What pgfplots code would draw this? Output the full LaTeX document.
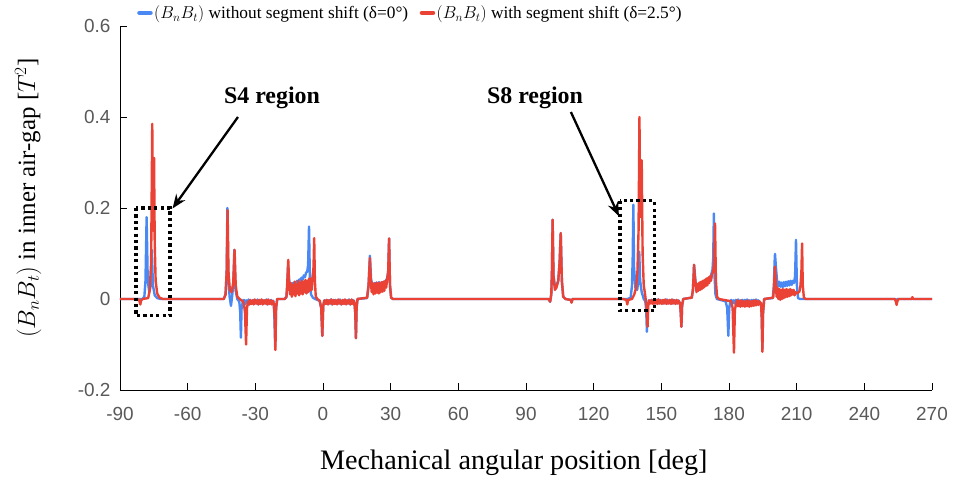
\documentclass[border=0pt]{standalone}
\usepackage{fontspec}
\setmainfont{Liberation Serif}
\newfontfamily\arialfont{Liberation Sans}
\usepackage{pgfplots}
\pgfplotsset{compat=1.18}
\usetikzlibrary{arrows.meta}

\definecolor{bnbtblue}{RGB}{74,137,243}
\definecolor{bnbtred}{RGB}{234,67,53}
\definecolor{ticktext}{RGB}{89,89,89}

\begin{document}
\begin{tikzpicture}
\begin{axis}[
  name=ax,
  at={(0,0)}, anchor=south west,
  scale only axis,
  width=812bp, height=364bp,
  xmin=-90, xmax=270, ymin=-0.2, ymax=0.6,
  xtick={-90,-60,...,270},
  ytick={-0.2,0,0.2,0.4,0.6},
  axis x line*=bottom, axis y line*=left,
  axis line style={black, line width=0.8bp},
  tick align=inside,
  major tick length=7bp,
  tick style={black, line width=0.8bp},
  /pgf/number format/assume math mode=true,
  ticklabel style={font=\arialfont\fontsize{19}{21}\selectfont, text=ticktext},
  xticklabel style={yshift=-14bp},
  yticklabel style={xshift=-6bp},
  xlabel={Mechanical angular position [deg]},
  xlabel style={at={(axis description cs:0.485,0)}, anchor=center, yshift=-73bp,
                font=\fontsize{28.3}{30}\selectfont},
  ylabel={$(B_nB_t)$ in inner air-gap [$T^2$]},
  ylabel style={at={(axis description cs:-0.113,0.527)}, anchor=center,
                font=\fontsize{25}{27}\selectfont},
  legend columns=2,
  legend cell align=left,
  legend style={at={(axis description cs:0.021,1.036)}, anchor=west,
                draw=none, fill=none, font=\fontsize{17.4}{19}\selectfont,
                nodes={inner xsep=1.5bp, inner ysep=1bp},
                /tikz/every even column/.append style={column sep=10bp},
                inner sep=0pt},
  legend image code/.code={\draw[#1, line width=4.5bp] (0bp,0bp) -- (11bp,0bp);},
  every axis plot/.append style={line width=2.4bp, line join=round, line cap=round},
]

% delta = 0 deg
\addplot[bnbtblue] coordinates {
(-90,0) (-80,0) (-79.2,0.005) (-78.7,0.04) (-78.2,0.18) (-77.7,0.04) (-77,0.015) (-76.4,0.03) (-75.9,0.108) (-75.4,0.03) (-74.6,0.008) (-73.5,0.002) (-72,0)
(-44,0) (-43.2,0.01) (-42.7,0.06) (-42.4,0.2) (-42,0.05) (-41.4,0.005) (-40.8,-0.015) (-40.2,0.01) (-39.7,0.04) (-39.3,0.108) (-38.8,0.02) (-38,0) (-37.1,-0.006) (-36.7,-0.03) (-36.4,-0.085) (-36.1,-0.02) (-35.5,-0.004)
(-35,-0.002) (-34.5,-0.011) (-34,-0.003) (-33.5,-0.010) (-33,-0.001) (-32.5,-0.012) (-32,-0.004) (-31.5,-0.009) (-31,-0.002) (-30.5,-0.011) (-30,-0.003) (-29.5,-0.010) (-29,-0.001) (-28.5,-0.012) (-28,-0.004) (-27.5,-0.009) (-27,-0.002) (-26.5,-0.011) (-26,-0.003) (-25.5,-0.010) (-25,-0.001) (-24.5,-0.012) (-24,-0.004) (-23.5,-0.009) (-23,-0.002) (-22.5,-0.010) (-22,-0.004)
(-21.6,-0.03) (-21.2,-0.105) (-20.8,-0.02) (-20.3,0) (-17,0) (-16.2,0.004) (-15.8,0.03) (-15.5,0.075) (-15.1,0.045) (-14.6,0.03)
(-14,0.025) (-13.5,0.035) (-13,0.028) (-12.5,0.038) (-12,0.03) (-11.5,0.04) (-11,0.034) (-10.5,0.043) (-10,0.037) (-9.5,0.047) (-9,0.042) (-8.5,0.052) (-8,0.048) (-7.5,0.058) (-7,0.06) (-6.6,0.075) (-6.2,0.159) (-5.8,0.04) (-5.3,0.01) (-4.5,0.003) (-3.5,0) (-1.5,-0.004) (-0.8,-0.02) (-0.3,-0.081) (0.1,-0.015) (0.6,-0.003)
(1,-0.008) (1.5,-0.002) (2,-0.011) (2.5,-0.003) (3,-0.010) (3.5,-0.001) (4,-0.012) (4.5,-0.004) (5,-0.009) (5.5,-0.002) (6,-0.011) (6.5,-0.003) (7,-0.010) (7.5,-0.001) (8,-0.012) (8.5,-0.004) (9,-0.009) (9.5,-0.002) (10,-0.011) (10.5,-0.003) (11,-0.010) (11.5,-0.001) (12,-0.012) (12.5,-0.004) (13,-0.009) (13.5,-0.003)
(14,-0.01) (14.3,-0.03) (14.6,-0.086) (14.9,-0.02) (15.3,0) (19.5,0.002) (20.2,0.03) (20.8,0.095) (21.3,0.045) (21.8,0.03)
(22.3,0.022) (22.8,0.035) (23.3,0.025) (23.8,0.036) (24.3,0.027) (24.8,0.037) (25.3,0.028) (25.8,0.036) (26.3,0.03) (26.8,0.038) (27.3,0.032) (27.8,0.04) (28.4,0.045) (28.9,0.06) (29.3,0.133) (29.7,0.03) (30.2,0.003) (31,0)
(100,0) (100.7,-0.006) (101.2,0.01) (101.5,0.06) (101.8,0.174) (102.2,0.05) (102.8,0.03) (103.5,0.03) (104.3,0.04) (104.9,0.08) (105.4,0.145) (105.9,0.04) (106.5,0.005) (107.5,0) (109.8,-0.002) (110.2,-0.007) (110.6,0)
(135,0) (136.4,0.003) (137,0.03) (137.3,0.09) (137.6,0.207) (137.9,0.07) (138.5,0.025) (139.3,0.02) (139.8,0.04) (140.2,0.104) (140.6,0.04) (141.3,0.015) (142.2,0) (142.9,-0.005) (143.3,-0.025) (143.6,-0.072) (143.9,-0.02) (144.4,-0.003)
(145,-0.008) (145.5,-0.002) (146,-0.009) (146.5,-0.002) (147,-0.010) (147.5,-0.003) (148,-0.009) (148.5,-0.001) (149,-0.010) (149.5,-0.002) (150,-0.009) (150.5,-0.003) (151,-0.010) (151.5,-0.002) (152,-0.009) (152.5,-0.001) (153,-0.010) (153.5,-0.003) (154,-0.009) (154.5,-0.002) (155,-0.010) (155.5,-0.002) (156,-0.009) (156.5,-0.003) (157,-0.010) (157.5,-0.003)
(158.3,-0.01) (158.6,-0.03) (158.9,-0.061) (159.2,-0.015) (159.7,0) (163.5,0.003) (164,0.02) (164.3,0.05) (164.5,0.075) (164.8,0.06) (165.2,0.035)
(165.7,0.025) (166.2,0.032) (166.7,0.024) (167.2,0.034) (167.7,0.027) (168.2,0.037) (168.7,0.03) (169.2,0.04) (169.7,0.034) (170.2,0.044) (170.7,0.039) (171.2,0.048) (171.7,0.045) (172.2,0.055) (172.7,0.065) (173,0.09) (173.3,0.188) (173.6,0.05) (174,0.01) (174.6,0)
(178.5,-0.005) (179.2,-0.02) (179.7,-0.081) (180.1,-0.02) (180.6,-0.005)
(181,-0.002) (181.5,-0.009) (182,-0.003) (182.5,-0.010) (183,-0.002) (183.5,-0.009) (184,-0.001) (184.5,-0.010) (185,-0.003) (185.5,-0.009) (186,-0.002) (186.5,-0.010) (187,-0.002) (187.5,-0.009) (188,-0.001) (188.5,-0.010) (189,-0.003) (189.5,-0.009) (190,-0.002) (190.5,-0.010) (191,-0.002) (191.5,-0.009) (192,-0.001) (192.5,-0.010) (193,-0.003) (193.5,-0.008)
(194.2,-0.01) (194.5,-0.04) (194.8,-0.11) (195.1,-0.03) (195.6,0) (199.4,0.002) (199.9,0.03) (200.2,0.08) (200.4,0.099) (200.8,0.07) (201.3,0.04)
(201.8,0.028) (202.3,0.038) (202.8,0.027) (203.3,0.036) (203.8,0.026) (204.3,0.037) (204.8,0.028) (205.3,0.038) (205.8,0.029) (206.3,0.039) (206.8,0.03) (207.3,0.04) (207.8,0.031) (208.3,0.04) (208.8,0.035) (209.3,0.05) (209.7,0.13) (210.1,0.03) (210.6,0.002) (211.5,0)
(253.7,0) (254.2,-0.005) (254.6,0) (270,0)
};
\addlegendentry{$(B_nB_t)$ without segment shift (δ=0°)}

% delta = 2.5 deg
\addplot[bnbtred] coordinates {
(-90,0) (-82,0) (-81.4,-0.004) (-81,-0.012) (-80.6,-0.003) (-80,0) (-77.5,0.002) (-76.8,0.02) (-76.2,0.08) (-75.7,0.385) (-75.4,0.2) (-75.2,0.15) (-74.9,0.31) (-74.6,0.12) (-74.2,0.04) (-73.5,0.012) (-72.5,0.003) (-71,0)
(-44,0) (-43.2,0.01) (-42.7,0.06) (-42.3,0.195) (-41.9,0.06) (-41.3,0.02) (-40.5,0.015) (-39.8,0.035) (-39.2,0.108) (-38.7,0.03) (-38,0.005) (-37,0) (-35.5,-0.005) (-35,-0.012) (-34.6,-0.03) (-34.1,-0.10) (-33.7,-0.02) (-33.2,-0.005)
(-32.75,-0.012) (-32.25,-0.002) (-31.75,-0.011) (-31.25,-0.003) (-30.75,-0.012) (-30.25,-0.001) (-29.75,-0.010) (-29.25,-0.003) (-28.75,-0.012) (-28.25,-0.002) (-27.75,-0.011) (-27.25,-0.001) (-26.75,-0.012) (-26.25,-0.003) (-25.75,-0.010) (-25.25,-0.002) (-24.75,-0.012) (-24.25,-0.001) (-23.75,-0.011) (-23.25,-0.003) (-22.75,-0.012) (-22.25,-0.004)
(-21.8,-0.01) (-21.4,-0.04) (-21.1,-0.112) (-20.8,-0.02) (-20.3,0) (-17,0) (-16.2,0.005) (-15.8,0.04) (-15.4,0.086) (-15,0.03)
(-14.6,0.01) (-14.2,0.035) (-13.8,0.005) (-13.4,0.03) (-13,0.01) (-12.6,0.038) (-12.2,0.006) (-11.8,0.032) (-11.4,0.012) (-11,0.04) (-10.6,0.008) (-10.2,0.035) (-9.8,0.012) (-9.4,0.04) (-9,0.01) (-8.6,0.038) (-8.2,0.015) (-7.8,0.042) (-7.4,0.012) (-7,0.04) (-6.6,0.015) (-6.2,0.045) (-5.8,0.018) (-5.4,0.045) (-5,0.02) (-4.6,0.05) (-4.2,0.07) (-3.9,0.134) (-3.6,0.04) (-3.2,0.005) (-2.5,0) (-1.4,-0.004) (-0.8,-0.02) (-0.3,-0.081) (0.1,-0.015) (0.6,-0.003)
(1.25,-0.011) (1.75,-0.002) (2.25,-0.012) (2.75,-0.003) (3.25,-0.010) (3.75,-0.001) (4.25,-0.012) (4.75,-0.002) (5.25,-0.011) (5.75,-0.003) (6.25,-0.012) (6.75,-0.001) (7.25,-0.010) (7.75,-0.003) (8.25,-0.012) (8.75,-0.002) (9.25,-0.011) (9.75,-0.001) (10.25,-0.012) (10.75,-0.003) (11.25,-0.010) (11.75,-0.002) (12.25,-0.012) (12.75,-0.001) (13.25,-0.011) (13.75,-0.004)
(14,-0.012) (14.3,-0.03) (14.6,-0.086) (14.9,-0.02) (15.3,0) (19.6,0.003) (20.2,0.03) (20.8,0.09) (21.2,0.04)
(21.6,0.015) (22,0.035) (22.4,0.01) (22.8,0.033) (23.2,0.012) (23.6,0.036) (24,0.014) (24.4,0.034) (24.8,0.012) (25.2,0.036) (25.6,0.015) (26,0.037) (26.4,0.016) (26.8,0.038) (27.2,0.018) (27.6,0.04) (28,0.025) (28.5,0.045) (28.9,0.06) (29.3,0.133) (29.7,0.03) (30.2,0.003) (31,0)
(100,0) (100.7,-0.006) (101.2,0.01) (101.5,0.06) (101.8,0.174) (102.2,0.05) (102.8,0.02) (103.5,0.025) (104.3,0.04) (104.9,0.08) (105.4,0.145) (105.9,0.04) (106.5,0.005) (107.5,0) (109.8,-0.002) (110.2,-0.008) (110.6,0)
(133,0) (134.5,-0.002) (134.9,-0.012) (135.3,-0.002) (137,0) (138,0.01) (138.8,0.025) (139.4,0.06) (139.9,0.15) (140.3,0.40) (140.6,0.2) (140.9,0.18) (141.3,0.305) (141.7,0.1) (142.2,0.03) (142.8,0.01) (143.3,-0.01) (143.6,-0.03) (143.9,-0.061) (144.2,-0.015) (144.7,-0.003)
(145.25,-0.010) (145.75,-0.002) (146.25,-0.011) (146.75,-0.003) (147.25,-0.010) (147.75,-0.002) (148.25,-0.011) (148.75,-0.001) (149.25,-0.010) (149.75,-0.003) (150.25,-0.011) (150.75,-0.002) (151.25,-0.010) (151.75,-0.001) (152.25,-0.011) (152.75,-0.003) (153.25,-0.010) (153.75,-0.002) (154.25,-0.011) (154.75,-0.001) (155.25,-0.010) (155.75,-0.003) (156.25,-0.011) (156.75,-0.002) (157.25,-0.010) (157.75,-0.004)
(158.3,-0.01) (158.6,-0.03) (158.9,-0.061) (159.2,-0.015) (159.7,0) (163.5,0.003) (164,0.02) (164.3,0.05) (164.5,0.075) (164.8,0.05) (165.2,0.035)
(165.6,0.015) (166,0.033) (166.4,0.018) (166.8,0.036) (167.2,0.02) (167.6,0.038) (168,0.022) (168.4,0.04) (168.8,0.025) (169.2,0.042) (169.6,0.028) (170,0.045) (170.4,0.03) (170.8,0.047) (171.2,0.035) (171.6,0.05) (172,0.04) (172.5,0.055) (173,0.06) (173.4,0.08) (173.8,0.166) (174.2,0.04) (174.7,0.005) (175.5,0)
(181,-0.005) (181.6,-0.02) (182.2,-0.118) (182.6,-0.025) (183.1,-0.01)
(183.5,-0.003) (184,-0.016) (184.5,-0.004) (185,-0.017) (185.5,-0.003) (186,-0.016) (186.5,-0.005) (187,-0.017) (187.5,-0.004) (188,-0.016) (188.5,-0.003) (189,-0.017) (189.5,-0.005) (190,-0.016) (190.5,-0.004) (191,-0.015) (191.5,-0.003) (192,-0.014) (192.5,-0.004) (193,-0.013) (193.5,-0.005)
(194.2,-0.01) (194.5,-0.04) (194.8,-0.116) (195.1,-0.03) (195.6,0) (199.6,0.003) (200,0.03) (200.4,0.071) (200.7,0.04)
(201.1,0.005) (201.5,0.025) (201.9,0) (202.3,0.022) (202.7,-0.002) (203.1,0.02) (203.5,0) (203.9,0.022) (204.3,0.002) (204.7,0.02) (205.1,0.004) (205.5,0.022) (205.9,0.005) (206.3,0.02) (206.7,0.006) (207.1,0.022) (207.5,0.008) (207.9,0.02) (208.3,0.01) (208.7,0.02) (209.1,0.008) (209.5,0.015) (210,0.012) (210.6,0.014) (211.2,0.016) (211.7,0.03) (212.1,0.06) (212.4,0.122) (212.7,0.03) (213.2,0.003) (214,0)
(253.5,0) (254,-0.006) (254.3,-0.013) (254.7,-0.004) (255.2,0) (261,0) (261.3,0.004) (261.6,0) (270,0)
};
\addlegendentry{$(B_nB_t)$ with segment shift (δ=2.5°)}

% highlighted regions
\draw[black, line width=3.2bp, dash pattern=on 3.2bp off 3.2bp]
  (axis cs:-82.9,0.2) rectangle (axis cs:-67.8,-0.037);
\draw[black, line width=3.2bp, dash pattern=on 3.2bp off 3.2bp]
  (axis cs:131.7,0.216) rectangle (axis cs:146.8,-0.026);
\node[font=\bfseries\fontsize{24}{26}\selectfont] at (axis cs:-22.6,0.442) {S4 region};
\node[font=\bfseries\fontsize{24}{26}\selectfont] at (axis cs:94,0.442) {S8 region};
\draw[black, line width=2.3bp, -{Stealth[length=14bp,width=11bp]}]
  (axis cs:-37.7,0.40) -- (axis cs:-66.7,0.199);
\draw[black, line width=2.3bp, -{Stealth[length=14bp,width=11bp]}]
  (axis cs:109.9,0.411) -- (axis cs:131.2,0.182);
\end{axis}
\pgfresetboundingbox
\path[use as bounding box] ([xshift=-120bp,yshift=-96bp]ax.south west)
  rectangle ([xshift=27bp,yshift=26bp]ax.north east);
\end{tikzpicture}
\end{document}
